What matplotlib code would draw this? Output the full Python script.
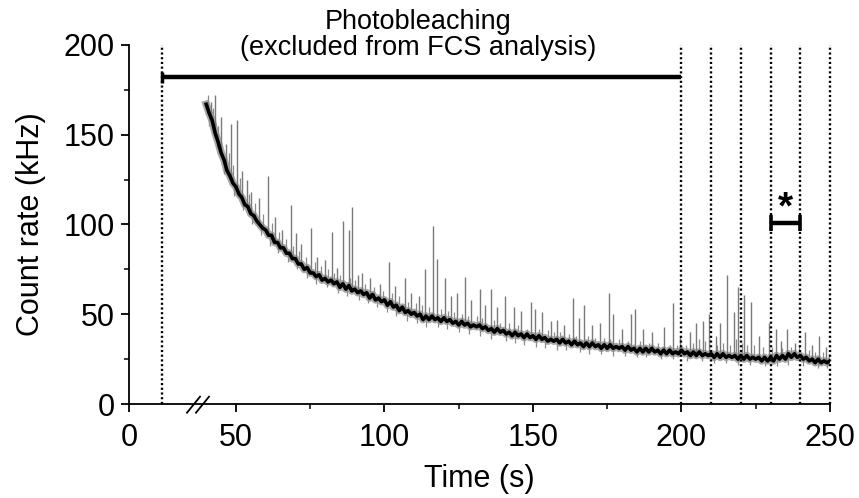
import numpy as np
import matplotlib
matplotlib.use('Agg')
import matplotlib.pyplot as plt

plt.rcParams['font.family'] = ['Liberation Sans', 'DejaVu Sans']

# ---------------- data ----------------
trace_start, trace_end = 40, 250          # s, 1-s samples
count_rate = [
    167, 162, 158, 151, 146, 140, 136, 130, 127, 123,
    121, 117, 115, 111, 110, 106, 105, 102, 100, 98,
    97, 94, 94, 90, 90, 87, 87, 84, 84, 81,
    81, 78, 78, 75, 76, 73, 73, 71, 72, 69,
    70, 68, 69, 67, 68, 65, 67, 64, 66, 63,
    64, 62, 63, 61, 62, 59, 61, 58, 59, 57,
    58, 55, 57, 54, 55, 52, 54, 51, 52, 50,
    51, 49, 50, 47, 49, 47, 49, 47, 48, 46,
    48, 46, 47, 45, 46, 44, 46, 44, 45, 43,
    44, 43, 44, 42, 43, 41, 42, 40, 42, 40,
    41, 39, 40, 38, 40, 38, 39, 37, 39, 37,
    38, 36, 38, 36, 37, 35, 36, 35, 36, 34,
    36, 34, 35, 33, 35, 33, 34, 32, 34, 32,
    34, 32, 33, 31, 33, 31, 33, 31, 32, 31,
    32, 30, 32, 30, 31, 29, 31, 29, 31, 29,
    31, 29, 30, 28, 30, 28, 30, 28, 29, 28,
    30, 28, 29, 27, 29, 27, 29, 27, 28, 27,
    28, 26, 28, 26, 28, 26, 27, 26, 27, 25,
    27, 25, 27, 25, 26, 25, 26, 24, 26, 24,
    26, 24, 27, 25, 27, 25, 28, 26, 28, 26,
    27, 25, 26, 24, 25, 23, 25, 23, 24, 23,
    24,
]
spike_time = [41.5, 43, 45, 46.6, 48.3, 50.2, 52, 53.6, 55.2, 57.7, 60.7, 63.3,
              65.4, 68.4, 70.3, 72, 75.3, 77.4, 80, 82.2, 84, 86.1, 87.9, 89.2,
              91, 92.5, 95, 98.4, 101.5, 103.5, 106.9, 109, 111.5, 113.8, 116.2,
              117.7, 120.5, 122.5, 124.5, 127.2, 129, 132.2, 134, 135.8, 138,
              140.5, 143.6, 146, 149.2, 150.6, 153, 156, 158.1, 160.5, 163.6,
              165.5, 167.3, 170, 172.5, 175.6, 177, 180, 183, 184.3, 187, 190,
              194.2, 197.1, 199.5, 203, 205, 207.2, 209.4, 211.5, 213, 215.2,
              217.7, 219.1, 221.1, 223.3, 226, 229.5, 231.9, 233.5, 235.5, 238.3,
              241.7, 244, 246.2, 248.5]
spike_peak = [168, 172, 160, 145, 156, 158, 130, 125, 118, 115, 127, 104,
              97, 111, 95, 89, 98, 82, 80, 96, 76, 102, 97, 110,
              72, 73, 70, 67, 79, 66, 70, 62, 60, 75, 99,
              81, 70, 60, 62, 71, 58, 64, 55, 64, 54,
              60, 54, 52, 57, 53, 51, 46, 47, 44, 59,
              48, 55, 44, 45, 62, 50, 42, 50, 53, 42, 40,
              43, 56, 38, 40, 45, 46, 50, 38, 45, 72,
              51, 65, 61, 57, 38, 45, 42, 35, 42, 34,
              40, 33, 38, 32]
# small upward fluctuations forming the grey fringe of the trace: (time, peak)
fringe_spikes = [
    (40.5, 172), (42.2, 165), (44.1, 155), (47.5, 140), (49, 133), (51.3, 126),
    (54.5, 117), (56.5, 112), (59, 106), (62, 101), (64.5, 96), (67, 92),
    (69.2, 88), (71.2, 85), (73.5, 82), (76.5, 79), (78.5, 77), (81, 75),
    (83, 73), (85, 72), (88.5, 70), (90.2, 69), (93.5, 67), (96.5, 65),
    (99.5, 63), (102.5, 62), (105, 60), (108, 57), (110.5, 56), (112.5, 55),
    (115, 54), (119, 53), (121.5, 52), (123.5, 51), (126, 50), (128, 49),
    (131, 49), (133, 48), (137, 47), (139, 45), (142, 45), (145, 44),
    (148, 42), (152, 42), (155, 41), (157, 40), (159, 40), (162, 39),
    (164.5, 38), (168.5, 38), (171, 37), (174, 37), (176, 36), (179, 36),
    (182, 35), (186, 35), (189, 34), (192, 34), (196, 33), (198.5, 33),
    (201.5, 33), (204, 34), (206, 36), (208, 35), (212, 33), (214, 34),
    (216.5, 33), (218.5, 36), (220.5, 34), (222, 33), (224.5, 33), (227.5, 32),
    (230.5, 32), (234, 31), (237, 32), (239.5, 33), (243, 30), (245, 29),
    (247.5, 29), (249.5, 28),
]
# small downward fluctuations: (time, low)
fringe_dips = [
    (41, 155), (43.5, 143), (46, 128), (49.5, 116), (52.5, 108), (55.5, 100),
    (58.5, 94), (61.5, 88), (64, 84), (67.5, 79), (70.5, 75), (74, 70),
    (77, 67), (80.5, 65), (84.5, 62), (87.5, 60), (91.5, 58), (94.5, 56),
    (97.5, 54), (101, 51), (104, 49), (107.5, 46), (111, 45), (114, 43),
    (118, 43), (121, 42), (125, 40), (128.5, 39), (132, 38), (136, 36),
    (141, 35), (144, 34), (147, 33), (151, 32), (154, 31), (158, 30),
    (161, 30), (166, 29), (169, 28), (173, 28), (177, 27), (181, 27),
    (185, 26), (188, 26), (193, 25), (197, 25), (202, 24), (207, 24),
    (211, 23), (215, 23), (219, 22), (223, 22), (228, 21), (232, 21),
    (236, 22), (241, 21), (246, 20), (249, 20),
]

marker_times = [11, 200, 210, 220, 230, 240, 250]
bleach_span = [11, 200]
bleach_level = 182
star_span = [230, 240]
star_level = 101
title_text = "Photobleaching\n(excluded from FCS analysis)"
x_ticks = [0, 50, 100, 150, 200, 250]
x_minor = [75, 125, 175, 225]
y_ticks = [0, 50, 100, 150, 200]
y_minor = [25, 75, 125, 175]

# ---------------- figure ----------------
W, H = 859, 498
fig = plt.figure(figsize=(W / 100, H / 100), dpi=100)
ax_l, ax_r, ax_t, ax_b = 129, 830, 45, 404
ax = fig.add_axes([ax_l / W, (H - ax_b) / H, (ax_r - ax_l) / W, (ax_b - ax_t) / H])

# broken x axis (0..22 | 38..250)
_xd = [0, 22, 38, 250]
_xu = [0, 22, 24, 236]
ax.set_xscale('function', functions=(lambda x: np.interp(x, _xd, _xu),
                                     lambda u: np.interp(u, _xu, _xd)))
ax.set_xlim(0, 250)
ax.set_ylim(0, 200)

t = np.arange(trace_start, trace_end + 1)
cr = np.array(count_rate, dtype=float)

# trace: grey fringe + black core
ax.plot(t, cr, color='#a8a8a8', lw=5.5, zorder=2)
ft = [p[0] for p in fringe_spikes]
fp = [p[1] for p in fringe_spikes]
ax.vlines(ft, np.interp(ft, t, cr), fp, colors='#8c8c8c', lw=0.9, zorder=2)
dt = [p[0] for p in fringe_dips]
dp = [p[1] for p in fringe_dips]
ax.vlines(dt, dp, np.interp(dt, t, cr), colors='#8c8c8c', lw=0.9, zorder=2)
base = np.interp(spike_time, t, cr)
ax.vlines(spike_time, base, spike_peak, colors='#7a7a7a', lw=1.0, zorder=2)
ax.plot(t, cr, color='black', lw=2.6, zorder=3)

# dotted markers
for xm in marker_times:
    ax.plot([xm, xm], [0, 200], color='black', lw=1.7, ls=(0, (0.9, 1.1)),
            clip_on=False, zorder=4)

# photobleaching bar
ax.plot(bleach_span, [bleach_level] * 2, color='black', lw=3.2,
        solid_capstyle='butt', clip_on=False, zorder=5)
ax.plot([bleach_span[0]] * 2, [bleach_level - 3, bleach_level + 3], color='black',
        lw=2.5, solid_capstyle='butt', zorder=5)

# star bar
ax.plot(star_span, [star_level] * 2, color='black', lw=3.2,
        solid_capstyle='butt', zorder=5)
for xs in star_span:
    ax.plot([xs, xs], [star_level - 4.5, star_level + 4.5], color='black',
            lw=2.6, solid_capstyle='butt', zorder=5)
ax.text(0.5 * (star_span[0] + star_span[1]), star_level + 8, '*', ha='center',
        va='center', fontsize=28, fontweight='bold')

# title text over the bar
fig.text(418 / W, 1 - 35 / H, title_text, ha='center', va='center',
         fontsize=19.5, linespacing=1.0, multialignment='center')

# axes styling
for s in ['top', 'right']:
    ax.spines[s].set_visible(False)
for s in ['left', 'bottom']:
    ax.spines[s].set_linewidth(1.3)
ax.set_xticks(x_ticks)
ax.set_xticks(x_minor, minor=True)
ax.set_yticks(y_ticks)
ax.set_yticks(y_minor, minor=True)
ax.set_xticklabels([str(v) for v in x_ticks])
ax.set_yticklabels([str(v) for v in y_ticks])
ax.tick_params(which='major', direction='out', length=5.5, width=1.3, labelsize=22)
ax.tick_params(axis='x', which='major', pad=8)
ax.tick_params(axis='y', which='major', pad=5)
ax.tick_params(which='minor', direction='out', length=3.5, width=1.1)
ax.set_xlabel('Time (s)', fontsize=22, labelpad=8)
ax.set_ylabel('Count rate (kHz)', fontsize=22, labelpad=12)

# axis-break marks
for x0, x1 in [(187, 200), (196, 209)]:
    ax.plot([(x0 - ax_l) / (ax_r - ax_l), (x1 - ax_l) / (ax_r - ax_l)],
            [(ax_b - 412.7) / (ax_b - ax_t), (ax_b - 396.7) / (ax_b - ax_t)],
            transform=ax.transAxes, color='black', lw=1.3, clip_on=False, zorder=6)

fig.savefig('out.png', dpi=100)
